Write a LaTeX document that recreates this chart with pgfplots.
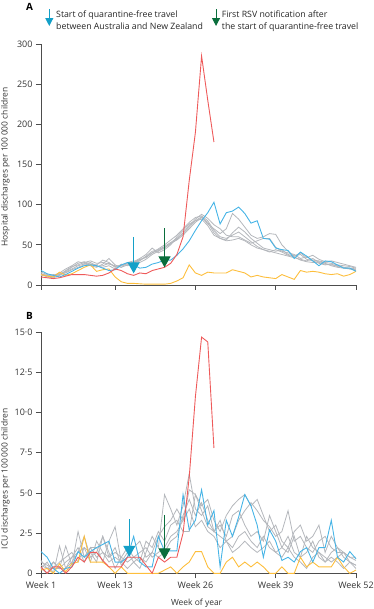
\documentclass[border=0pt]{standalone}
\usepackage{fontspec}
\setmainfont{Open Sans}
\usepackage{pgfplots}
\pgfplotsset{compat=1.18}
\usepackage{pgfplotstable}
\usetikzlibrary{arrows.meta}

\definecolor{cred}{HTML}{EE5A5A}
\definecolor{cblue}{HTML}{46B4E6}
\definecolor{cyel}{HTML}{FDBE3C}
\definecolor{cgrey}{HTML}{B4B7BC}
\definecolor{ablue}{HTML}{14A0C8}
\definecolor{agreen}{HTML}{0A6E3C}
\definecolor{axgrey}{HTML}{4D4D4D}

\pgfplotstableread{
w g1 g2 g3 g4 g5 blue yel red
1 14 16 12 14 13 18 13 10
2 12 13 11 10 12 14 11 9
3 10 12 13 9 11 12 10 8
4 14 15 12 12 13 10 16 9
5 17 20 16 18 15 13 12 11
6 22 24 20 23 19 17 14 13
7 27 29 24 25 22 21 18 13
8 29 27 26 28 25 24 22 13
9 26 24 28 30 26 25 25 12
10 25 22 24 27 23 24 17 11
11 31 26 22 28 24 21 19 12
12 28 33 24 26 27 18 20 15
13 22 25 20 24 23 19 10 20
14 24 22 26 22 25 25 4 18
15 27 25 24 28 26 28 2 14
16 27 29 28 30 27 25 2 12
17 30 33 32 28 31 21 1.5 15
18 36 38 34 32 35 22 1 14
19 42 46 40 38 40 26 1 18
20 44 40 45 42 43 28 1 20
21 48 44 50 46 47 31 1 22
22 53 50 56 52 51 31 2 27
23 58 60 62 56 57 37 5 38
24 65 68 70 62 64 45 9 60
25 74 76 78 70 72 55 25 130
26 82 80 84 78 80 68 15 190
27 88 85 86 84 82 80 12 285
28 83 76 80 78 74 90 16 230
29 75 70 68 65 62 103 15 178
30 70 64 60 58 58 76 15 nan
31 62 70 58 56 55 90 15 nan
32 60 89 62 65 56 92 19 nan
33 60 82 66 72 58 97 17 nan
34 56 72 60 66 55 89 15 nan
35 52 62 54 58 50 77 10 nan
36 55 58 48 52 46 80 12 nan
37 58 60 44 46 44 58 10 nan
38 58 64 42 44 41 57 9 nan
39 47 63 40 42 44 46 8 nan
40 42 50 38 44 41 44 13 nan
41 40 42 36 38 37 43 10 nan
42 38 36 34 36 35 33 7 nan
43 33 40 32 38 31 41 18 nan
44 35 34 30 32 29 36 16 nan
45 31 37 33 30 28 30 17 nan
46 30 32 28 27 29 24 16 nan
47 28 29 26 25 27 30 14 nan
48 27 30 25 26 24 29 13 nan
49 25 28 24 23 22 25 14 nan
50 24 26 22 22 21 21 11 nan
51 23 24 21 20 20 21 13 nan
52 21 22 20 19 18 17 17 nan
}\hosp

\pgfplotstableread{
w g1 g2 g3 g4 g5 blue yel red
1 0.8 0.3 0.5 0.3 0.7 1.35 0.2 0.4
2 0.3 0.7 0.3 0.0 0.5 1.0 0.3 0
3 0.7 0 0.3 0.7 0.3 0.3 0 0.4
4 0.3 1.7 0.7 0.3 0.3 0 0.6 0.4
5 1.7 0.3 1.0 0.7 0.3 0.3 0.1 0
6 0.5 0.7 1.3 1.0 1.0 0.4 0.6 0.4
7 2.6 1.3 0.7 1.6 1.3 1.35 0.7 1.0
8 1.0 2.3 1.6 0.7 1.6 1.0 2.3 0.7
9 1.6 1.0 1.3 1.6 0.7 1.35 0.7 1.3
10 1.6 1.3 0.7 1.0 2.0 1.6 0.7 1.3
11 0.7 2.3 2.3 1.3 1.3 1.8 0.7 0.8
12 2.0 1.0 1.3 0.7 1.0 2.0 0.4 0.4
13 2.9 1.6 0.3 1.0 1.3 0.7 0 0.4
14 0.7 0.5 1.0 0.7 1.0 0.7 0.4 0.4
15 1.3 1.0 1.6 0.3 0.7 1.0 0 1.0
16 0.7 1.6 1.0 0.7 1.0 2.3 0 1.0
17 0.3 2.0 0.7 1.0 1.3 0.7 0 1.0
18 1.3 1.0 2.0 0.7 1.6 0.4 0 0.5
19 2.3 1.3 1.6 1.3 1.0 0.4 0 0
20 1.6 2.3 2.6 1.0 1.3 2.3 0 1.0
21 4.9 2.9 2.0 1.3 1.6 1.4 0.2 0.7
22 4.0 3.3 3.0 2.0 2.3 1.4 0.4 1.0
23 3.0 4.0 3.3 2.3 2.6 1.4 0 1.0
24 4.2 3.3 2.6 3.6 3.3 4.9 0.4 2.5
25 6.2 5.2 2.6 4.6 4.0 2.7 0.7 6.0
26 4.0 4.9 4.9 3.6 2.9 3.3 1.35 11.0
27 3.6 4.2 3.9 4.4 3.3 5.2 1.35 14.7
28 4.2 4.6 2.9 3.3 2.6 3.0 0.4 14.4
29 2.6 3.3 2.6 2.6 2.3 3.9 0 7.8
30 3.0 2.6 2.3 3.3 1.6 0.4 0 nan
31 2.3 3.6 2.0 2.0 2.0 3.3 0.7 nan
32 3.6 4.2 2.3 1.6 1.3 2.3 1.0 nan
33 3.9 4.6 3.3 2.3 1.6 3.5 0.4 nan
34 3.0 4.9 3.9 2.6 2.0 4.9 0.7 nan
35 2.3 4.2 4.4 2.0 1.6 4.2 0.4 nan
36 2.6 4.6 3.9 1.6 1.3 3.0 0.7 nan
37 2.0 3.6 3.3 2.3 1.6 1.0 0.4 nan
38 3.6 2.6 2.9 1.6 2.0 2.7 0 nan
39 2.6 3.0 2.3 1.3 1.3 2.0 0 nan
40 1.6 2.0 2.6 1.6 1.0 0.8 0.4 nan
41 1.3 1.6 3.9 2.3 1.6 1.0 0 nan
42 2.3 2.6 2.0 1.3 1.0 0.7 0 nan
43 1.0 3.0 2.3 1.0 0.7 1.35 1.0 nan
44 1.3 2.0 1.6 2.3 0.3 1.6 0.4 nan
45 2.0 2.3 1.3 1.6 1.0 0.7 0.7 nan
46 1.0 3.0 2.0 1.3 1.3 1.6 0.4 nan
47 0.7 1.3 2.3 1.0 0.7 1.6 0.4 nan
48 1.3 2.3 1.6 0.7 1.0 3.3 0.4 nan
49 1.6 1.6 1.3 1.0 0.7 1.0 1.0 nan
50 1.0 1.3 1.3 1.3 0.3 0.7 0.4 nan
51 0.7 1.0 1.0 0.7 0.7 1.35 0 nan
52 0.5 1.0 0.8 0.3 0.5 0.9 0.2 nan
}\icu

\pgfplotsset{
  panel/.style={
    scale only axis, width=315bp, height=241bp,
    xmin=1, xmax=52, clip=false,
    axis x line*=bottom, axis y line*=left,
    axis line style={axgrey, line width=0.9pt, -},
    tick align=outside, major tick length=5bp,
    tick style={axgrey, line width=0.9pt},
    xtick={1,13,26,39,52},
    tick label style={font=\fontsize{9}{11}\selectfont, text=black!80},
    /pgf/number format/assume math mode=true,
    label style={font=\fontsize{8.5}{10}\selectfont, text=black!80},
    unbounded coords=jump,
  },
  gl/.style={cgrey, line width=0.8pt},
}

\begin{document}
\begin{tikzpicture}
\path[use as bounding box] (-41bp,-324bp) rectangle (333bp,285bp);

\begin{axis}[panel, at={(0,0)}, anchor=south west,
  ymin=0, ymax=300, ytick={0,50,...,300},
  xticklabels={,,,,},
  ylabel={Hospital discharges per 100\,000 children},
  ylabel style={at={(axis description cs:-0.113,0.49)}, anchor=center},
]
\addplot[gl] table[x=w,y=g1] {\hosp};
\addplot[gl] table[x=w,y=g2] {\hosp};
\addplot[gl] table[x=w,y=g3] {\hosp};
\addplot[gl] table[x=w,y=g4] {\hosp};
\addplot[gl] table[x=w,y=g5] {\hosp};
\addplot[cyel, line width=0.9pt] table[x=w,y=yel] {\hosp};
\addplot[cblue, line width=0.9pt] table[x=w,y=blue] {\hosp};
\addplot[cred, line width=0.9pt] table[x=w,y=red] {\hosp};
\addplot[ablue, line width=1.2pt, -{Triangle[width=12bp,length=11bp]}] coordinates {(16,60) (16,14.5)};
\addplot[agreen, line width=1.2pt, -{Triangle[width=12bp,length=11bp]}] coordinates {(21,70.5) (21,22)};
% legend
\addplot[ablue, line width=1pt, -{Triangle[width=8bp,length=8bp]}] coordinates {(2.34,343.3) (2.34,322.4)};
\addplot[agreen, line width=1pt, -{Triangle[width=8bp,length=8bp]}] coordinates {(29.34,343.3) (29.34,322.4)};
\node[anchor=base west, inner sep=0pt, font=\fontsize{8.8}{11}\selectfont, text=black!85] at (axis cs:3.43,333.2) {Start of quarantine-free travel};
\node[anchor=base west, inner sep=0pt, font=\fontsize{8.8}{11}\selectfont, text=black!85] at (axis cs:3.43,318.3) {between Australia and New Zealand};
\node[anchor=base west, inner sep=0pt, font=\fontsize{8.8}{11}\selectfont, text=black!85] at (axis cs:30.26,333.2) {First RSV notification after};
\node[anchor=base west, inner sep=0pt, font=\fontsize{8.8}{11}\selectfont, text=black!85] at (axis cs:30.26,318.3) {the start of quarantine-free travel};
\node[font=\bfseries\fontsize{10}{12}\selectfont] at (axis cs:-0.85,346.4) {A};
\end{axis}

\begin{axis}[panel, at={(0,-288.3bp)}, anchor=south west,
  ymin=0, ymax=15, ytick={0,2.5,5,7.5,10,12.5,15},
  yticklabels={0,2·5,5·0,7·5,10·0,12·5,15·0},
  xticklabels={Week 1,Week 13,Week 26,Week 39,Week 52},
  ylabel={ICU discharges per 100\,000 children},
  ylabel style={at={(axis description cs:-0.113,0.392)}, anchor=center},
  xlabel={Week of year},
  xlabel style={at={(axis description cs:0.494,-0.123)}, anchor=center},
]
\addplot[gl] table[x=w,y=g1] {\icu};
\addplot[gl] table[x=w,y=g2] {\icu};
\addplot[gl] table[x=w,y=g3] {\icu};
\addplot[gl] table[x=w,y=g4] {\icu};
\addplot[gl] table[x=w,y=g5] {\icu};
\addplot[cyel, line width=0.9pt] table[x=w,y=yel] {\icu};
\addplot[cblue, line width=0.9pt] table[x=w,y=blue] {\icu};
\addplot[cred, line width=0.9pt] table[x=w,y=red] {\icu};
\addplot[ablue, line width=1.2pt, -{Triangle[width=12bp,length=11bp]}] coordinates {(15.3,3.37) (15.3,1.03)};
\addplot[agreen, line width=1.2pt, -{Triangle[width=12bp,length=11bp]}] coordinates {(21,3.63) (21,0.87)};
\node[font=\bfseries\fontsize{10}{12}\selectfont] at (axis cs:-0.85,16.04) {B};
\end{axis}
\end{tikzpicture}
\end{document}
